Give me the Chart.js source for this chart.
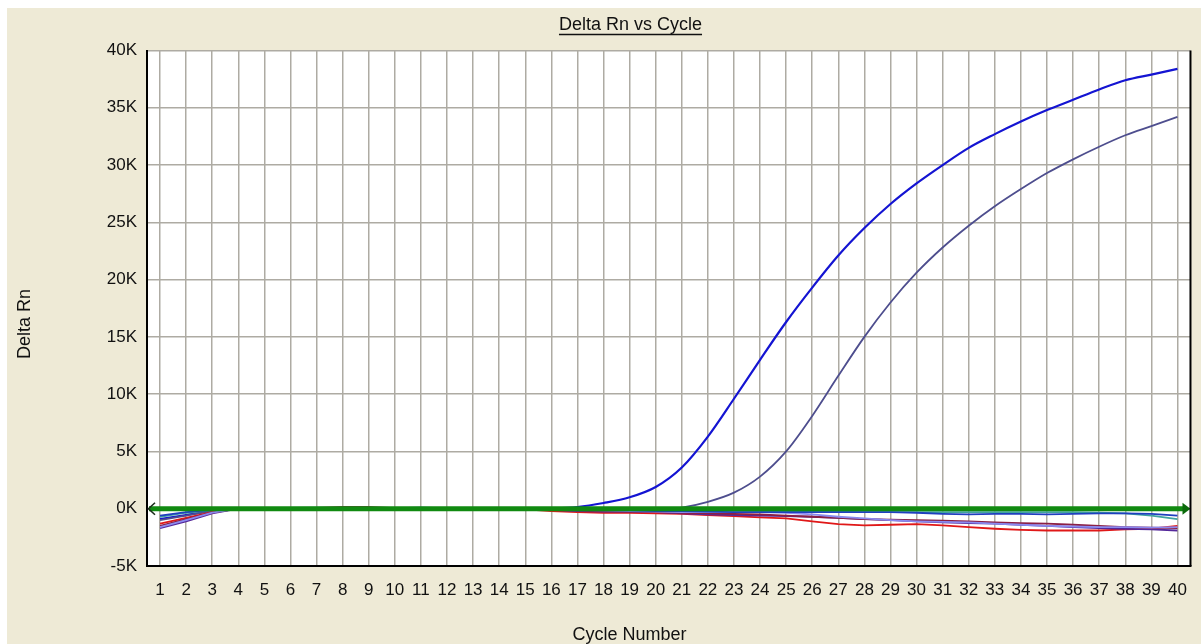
<!DOCTYPE html>
<html>
<head>
<meta charset="utf-8">
<title>Delta Rn vs Cycle</title>
<script src="https://cdn.jsdelivr.net/npm/chart.js@4.4.1/dist/chart.umd.min.js"></script>
<style>
  html, body { margin: 0; padding: 0; background: #ffffff; }
  #wrap { width: 1201px; height: 644px; position: relative; }
</style>
</head>
<body>
<div id="wrap"><canvas id="amp" width="1201" height="644"></canvas></div>
<script>
// Cycle numbers (x categories)
const cycles = [1, 2, 3, 4, 5, 6, 7, 8, 9, 10, 11, 12, 13, 14, 15, 16, 17, 18, 19, 20,
                21, 22, 23, 24, 25, 26, 27, 28, 29, 30, 31, 32, 33, 34, 35, 36, 37, 38, 39, 40];

// Delta Rn per cycle, in thousands
const wellA = [-0.9, -0.55, -0.2, 0, 0, 0.02, 0.03, 0.03, 0.03, 0.02,
               0.05, 0.02, 0.01, 0, 0, 0.03, 0.15, 0.5, 1.0, 1.9,
               3.6, 6.3, 9.6, 13.0, 16.3, 19.3, 22.1, 24.5, 26.6, 28.4,
               30.0, 31.5, 32.7, 33.8, 34.8, 35.7, 36.6, 37.4, 37.9, 38.4];
const wellB = [-1.0, -0.6, -0.2, 0, 0, 0.01, 0.02, 0.02, 0.02, 0.01,
               0.02, 0.01, 0, 0, 0, -0.05, -0.1, -0.1, -0.1, -0.05,
               0.1, 0.6, 1.4, 2.8, 5.0, 8.1, 11.6, 15.0, 18.0, 20.6,
               22.8, 24.7, 26.4, 27.9, 29.3, 30.5, 31.6, 32.6, 33.4, 34.2];
const wellC = [-1.3, -0.8, -0.3, 0, 0, 0, 0, 0, 0, 0,
               0, 0, 0, 0, -0.05, -0.2, -0.3, -0.35, -0.35, -0.4,
               -0.45, -0.55, -0.65, -0.75, -0.85, -1.1, -1.35, -1.45, -1.4, -1.35,
               -1.45, -1.6, -1.75, -1.85, -1.9, -1.9, -1.9, -1.8, -1.75, -1.5];
const wellD = [-1.5, -0.9, -0.35, 0, 0, 0.02, 0.08, 0.15, 0.15, 0.05,
               0, 0, 0, 0, 0, -0.05, -0.15, -0.2, -0.25, -0.3,
               -0.35, -0.4, -0.45, -0.5, -0.6, -0.7, -0.8, -0.9, -0.95, -1.0,
               -1.05, -1.1, -1.2, -1.25, -1.3, -1.4, -1.5, -1.6, -1.65, -1.7];
const wellE = [-1.7, -1.1, -0.4, 0, 0, 0, 0, 0, 0, 0,
               0, 0, 0, 0, 0, -0.1, -0.2, -0.25, -0.25, -0.3,
               -0.4, -0.5, -0.55, -0.6, -0.65, -0.7, -0.8, -0.9, -1.0, -1.1,
               -1.2, -1.25, -1.3, -1.4, -1.5, -1.6, -1.7, -1.75, -1.8, -1.9];
const wellF = [-1.6, -1.0, -0.35, 0, 0, 0, 0, 0, 0, 0,
               0, 0, 0, 0, 0, -0.05, -0.1, -0.15, -0.2, -0.25,
               -0.3, -0.3, -0.3, -0.3, -0.35, -0.5, -0.7, -0.85, -1.0, -1.1,
               -1.15, -1.2, -1.3, -1.4, -1.5, -1.55, -1.6, -1.6, -1.65, -1.6];
const wellG = [-0.7, -0.35, -0.1, 0, 0, 0.08, 0.1, 0.05, 0, 0,
               0, 0, 0, 0, 0, -0.05, -0.1, -0.1, -0.1, -0.1,
               -0.15, -0.15, -0.15, -0.2, -0.2, -0.25, -0.25, -0.3, -0.3, -0.3,
               -0.3, -0.3, -0.3, -0.3, -0.3, -0.3, -0.35, -0.4, -0.6, -0.9];
const wellH = [-0.6, -0.3, -0.1, 0, 0, 0, 0, 0, 0, 0.05,
               0.1, 0.05, 0, 0, 0, -0.05, -0.1, -0.15, -0.15, -0.2,
               -0.2, -0.25, -0.3, -0.3, -0.3, -0.3, -0.3, -0.3, -0.3, -0.35,
               -0.45, -0.5, -0.45, -0.45, -0.5, -0.45, -0.4, -0.4, -0.45, -0.6];

// Threshold level (thousands) and y tick range
const threshold = 0;
const yTickMin = -5;
const yTickMax = 40;
const yTickStep = 5;

const FONT = '"Liberation Sans", Arial, sans-serif';
const PANEL = '#eeead6';
const GRID = '#aeaba3';

function series(data, color, width, smooth) {
  return {
    data: data,
    borderColor: color,
    backgroundColor: color,
    borderWidth: width,
    pointRadius: 0,
    fill: false,
    cubicInterpolationMode: smooth ? 'monotone' : 'default',
    tension: 0
  };
}

// Panel colour behind everything, white plotting area
const backdrop = {
  id: 'backdrop',
  beforeDraw(chart) {
    const { ctx, width, height, chartArea: a } = chart;
    ctx.save();
    ctx.fillStyle = '#ffffff';
    ctx.fillRect(0, 0, width, height);
    ctx.fillStyle = PANEL;
    ctx.fillRect(7, 8, width - 7, height - 8);
    ctx.fillStyle = '#ffffff';
    ctx.fillRect(a.left, a.top, a.right - a.left, a.bottom - a.top);
    ctx.restore();
  }
};

// Threshold bar with arrow ends
const thresholdLine = {
  id: 'thresholdLine',
  afterDatasetsDraw(chart) {
    const { ctx, chartArea: a, scales: { y } } = chart;
    const py = y.getPixelForValue(threshold);
    ctx.save();
    ctx.strokeStyle = '#118a11';
    ctx.lineWidth = 5;
    ctx.beginPath();
    ctx.moveTo(a.left + 2, py);
    ctx.lineTo(a.right - 6, py);
    ctx.stroke();
    ctx.fillStyle = '#0b6a0b';
    ctx.beginPath();
    ctx.moveTo(a.right, py);
    ctx.lineTo(a.right - 8, py - 6);
    ctx.lineTo(a.right - 8, py + 6);
    ctx.closePath();
    ctx.fill();
    ctx.strokeStyle = '#1c2e1c';
    ctx.lineWidth = 1.6;
    ctx.beginPath();
    ctx.moveTo(a.left + 8, py - 6);
    ctx.lineTo(a.left + 1.5, py);
    ctx.lineTo(a.left + 8, py + 6);
    ctx.stroke();
    ctx.restore();
  }
};

// Chart title (underlined), axis titles and the right frame edge
const captions = {
  id: 'captions',
  afterDraw(chart) {
    const { ctx, chartArea: a } = chart;
    ctx.save();
    ctx.strokeStyle = '#000000';
    ctx.lineWidth = 2;
    ctx.beginPath();
    ctx.moveTo(a.right, a.top);
    ctx.lineTo(a.right, a.bottom);
    ctx.stroke();

    ctx.fillStyle = '#111111';
    ctx.font = '18px ' + FONT;
    ctx.textAlign = 'center';
    ctx.textBaseline = 'middle';
    const title = 'Delta Rn vs Cycle';
    const tx = 630.5, ty = 25;
    ctx.fillText(title, tx, ty);
    const tw = ctx.measureText(title).width;
    ctx.strokeStyle = '#111111';
    ctx.lineWidth = 1.5;
    ctx.beginPath();
    ctx.moveTo(tx - tw / 2, 34.5);
    ctx.lineTo(tx + tw / 2, 34.5);
    ctx.stroke();

    ctx.fillText('Cycle Number', 629.5, 635);

    ctx.translate(25, 324);
    ctx.rotate(-Math.PI / 2);
    ctx.fillText('Delta Rn', 0, 0);
    ctx.restore();
  }
};

new Chart(document.getElementById('amp'), {
  type: 'line',
  data: {
    labels: cycles,
    datasets: [
      series(wellH, '#1f3fbf', 1.8, false),
      series(wellG, '#3fa3a0', 1.8, false),
      series(wellF, '#8a8af0', 1.8, false),
      series(wellD, '#8b1f45', 1.8, false),
      series(wellE, '#55289a', 1.8, false),
      series(wellC, '#e01818', 1.8, false),
      series(wellB, '#4e4e8e', 1.8, true),
      series(wellA, '#1414d2', 2.2, true)
    ]
  },
  options: {
    responsive: false,
    devicePixelRatio: 1,
    animation: false,
    events: [],
    layout: { padding: { left: 0, right: 9, top: 50.5, bottom: 0 } },
    plugins: {
      legend: { display: false },
      title: { display: false },
      tooltip: { enabled: false }
    },
    scales: {
      x: {
        type: 'category',
        offset: true,
        grid: { offset: false, color: GRID, lineWidth: 1.5, drawTicks: false },
        border: { color: '#000000', width: 2 },
        ticks: {
          color: '#111111',
          font: { family: FONT, size: 17 },
          padding: 14,
          maxRotation: 0,
          autoSkip: false
        },
        afterFit(scale) { scale.height = 78; }
      },
      y: {
        min: yTickMin,
        max: yTickMax,
        grid: { color: GRID, lineWidth: 1.5, drawTicks: false },
        border: { color: '#000000', width: 2 },
        ticks: {
          stepSize: yTickStep,
          color: '#111111',
          font: { family: FONT, size: 17 },
          padding: 10,
          callback: v => v + 'K'
        },
        afterFit(scale) { scale.width = 147; }
      }
    }
  },
  plugins: [backdrop, thresholdLine, captions]
});
</script>
</body>
</html>
